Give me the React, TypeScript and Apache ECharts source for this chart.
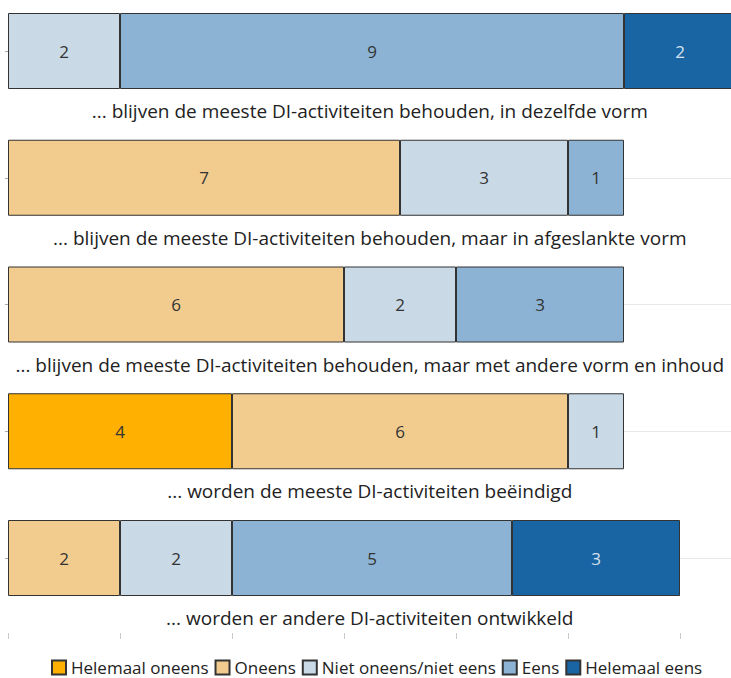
import React, { useEffect, useRef } from "react";
import * as echarts from "echarts";

const categories = [
  "... blijven de meeste DI-activiteiten behouden, in dezelfde vorm",
  "... blijven de meeste DI-activiteiten behouden, maar in afgeslankte vorm",
  "... blijven de meeste DI-activiteiten behouden, maar met andere vorm en inhoud",
  "... worden de meeste DI-activiteiten beëindigd",
  "... worden er andere DI-activiteiten ontwikkeld",
];
const seriesNames = [
  "Helemaal oneens",
  "Oneens",
  "Niet oneens/niet eens",
  "Eens",
  "Helemaal eens",
];
const helemaalOneens = [null, null, null, 4, null];
const oneens = [null, 7, 6, 6, 2];
const nietOneensNietEens = [2, 3, 2, 1, 2];
const eens = [9, 1, 3, null, 5];
const helemaalEens = [2, null, null, null, 3];
const xMin = 0;
const xMax = 14;
const xInterval = 2;

const seriesValues = [helemaalOneens, oneens, nietOneensNietEens, eens, helemaalEens];
const colors = ["#FFB000", "#F2CC8F", "#C9D9E6", "#8DB3D4", "#1965A4"];
const labelColors = ["#333", "#333", "#333", "#333", "#D6E2EE"];
const FONT = "'Open Sans', 'Noto Sans', sans-serif";
const LABEL_X = 6.46;
const LABEL_DY = 60;

export default function App() {
  const ref = useRef<HTMLDivElement>(null);
  useEffect(() => {
    if (!ref.current) return;
    const chart = echarts.init(ref.current, null, { renderer: "svg" });
    const barSeries = seriesNames.map((name, k) => ({
      name,
      type: "bar",
      stack: "total",
      barWidth: 76,
      clip: false,
      data: seriesValues[k],
      itemStyle: { color: colors[k], borderColor: "#333", borderWidth: 1 },
      label: {
        show: true,
        position: "inside",
        color: labelColors[k],
        fontSize: 17,
        fontFamily: FONT,
      },
    }));
    chart.setOption({
      animation: false,
      grid: {
        left: 8,
        width: 784,
        top: 51,
        height: 507,
        containLabel: false,
        outerBoundsMode: "none",
      },
      xAxis: {
        type: "value",
        min: xMin,
        max: xMax,
        interval: xInterval,
        offset: 75,
        axisLine: { show: false },
        axisTick: { show: true, length: 6, lineStyle: { color: "#c8c8c8" } },
        axisLabel: { show: false },
        splitLine: { show: false },
      },
      yAxis: {
        type: "category",
        inverse: true,
        boundaryGap: false,
        data: categories,
        axisLine: { show: false },
        axisTick: { show: true, length: 3, lineStyle: { color: "#aaa" } },
        axisLabel: { show: false },
        splitLine: { show: true, lineStyle: { color: "#e8e8e8" } },
      },
      legend: {
        data: seriesNames,
        left: 46,
        top: 654,
        itemWidth: 14,
        itemHeight: 14,
        itemGap: 6,
        icon: "rect",
        textStyle: { fontSize: 17, color: "#222", fontFamily: FONT },
      },
      series: [
        ...barSeries,
        {
          type: "custom",
          name: "categoryLabels",
          data: categories.map((_, i) => [LABEL_X, i]),
          encode: { x: 0, y: 1 },
          silent: true,
          renderItem: (params: any, api: any) => {
            const pt = api.coord([api.value(0), api.value(1)]);
            return {
              type: "text",
              x: pt[0],
              y: pt[1] + LABEL_DY,
              style: {
                text: categories[params.dataIndex],
                align: "center",
                verticalAlign: "middle",
                fontSize: 19,
                fontFamily: FONT,
                fill: "#222",
              },
            };
          },
        },
      ],
    });
    return () => chart.dispose();
  }, []);
  return (
    <div
      ref={ref}
      style={{ position: "fixed", left: 0, top: 0, width: 731, height: 678, background: "#fff" }}
    />
  );
}
